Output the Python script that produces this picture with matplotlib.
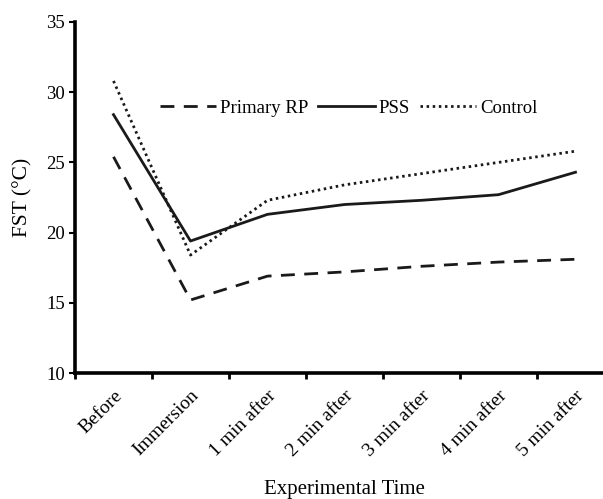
import matplotlib.pyplot as plt

plt.rcParams['font.family'] = ['Liberation Serif', 'DejaVu Serif']

times = ['Before', 'Immersion', '1 min after', '2 min after', '3 min after', '4 min after', '5 min after']
primary_rp = [25.4, 15.2, 16.9, 17.2, 17.6, 17.9, 18.1]
pss = [28.4, 19.4, 21.3, 22.0, 22.3, 22.7, 24.3]
control = [30.8, 18.4, 22.3, 23.4, 24.2, 25.0, 25.8]

W, H = 603, 499
fig = plt.figure(figsize=(W / 100, H / 100), dpi=100)
# axes runs past the right edge of the figure, like the reference
ax = fig.add_axes([75 / W, 1 - 373 / H, 539 / W, 351 / H])

x = range(len(times))
ax.plot(x, primary_rp, color='#1a1a1a', lw=2.0, linestyle=(0, (5.0, 3.4)), label='Primary RP')
ax.plot(x, pss, color='#1a1a1a', lw=2.0, label='PSS')
ax.plot(x, control, color='#1a1a1a', lw=2.0, linestyle=(0, (0.9, 1.3)), label='Control')

ax.set_xlim(-0.5, 6.5)
ax.set_ylim(10, 35)
ax.set_yticks([10, 15, 20, 25, 30, 35])
ax.set_xticks([i - 0.5 for i in range(7)])
ax.set_xticklabels([])
ax.set_xticks(list(x), minor=True)
ax.set_xticklabels(times, minor=True, rotation=45, ha='right', va='top', rotation_mode='anchor', fontsize=14)
ax.tick_params(axis='x', which='minor', length=0, pad=10)
ax.tick_params(axis='x', which='major', length=4, width=2, direction='out')
ax.tick_params(axis='y', length=4, width=1.5, direction='out', labelsize=13.5, pad=3)

for s in ['top', 'right']:
    ax.spines[s].set_visible(False)
ax.spines['left'].set_linewidth(2.6)
ax.spines['bottom'].set_linewidth(2.6)

ax.set_ylabel('FST (°C)', fontsize=15.5, labelpad=10)
ax.set_xlabel('Experimental Time', fontsize=15, labelpad=15)

ax.legend(loc='center left', bbox_to_anchor=(0.157, 0.755), ncol=3, frameon=False,
          fontsize=13.5, handlelength=3.0, columnspacing=0.55, handletextpad=0.2,
          borderaxespad=0, borderpad=0)

fig.savefig('out.png', dpi=100)
